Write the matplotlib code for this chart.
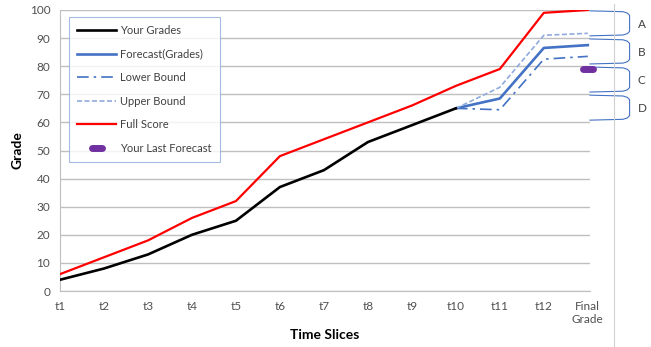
import matplotlib
matplotlib.use("Agg")
import matplotlib.pyplot as plt
from matplotlib.markers import MarkerStyle
from matplotlib.lines import Line2D

categories = ["t1", "t2", "t3", "t4", "t5", "t6", "t7", "t8", "t9", "t10", "t11", "t12", "Final\nGrade"]
your_grades = [4, 8, 13, 20, 25, 37, 43, 53, 59, 65]
full_score = [6, 12, 18, 26, 32, 48, 54, 60, 66, 73, 79, 99, 100]
forecast = [65, 68.5, 86.5, 87.5]
lower_bound = [65, 64.5, 82.5, 83.5]
upper_bound = [65, 72.5, 91, 91.7]
last_forecast = 79
grade_bands = [("A", 90, 100), ("B", 80, 90), ("C", 70, 80), ("D", 60, 70)]

plt.rcParams["font.family"] = ["Lato", "DejaVu Sans"]
grid_c = "#BFBFBF"
text_c = "#505050"
blue = "#4472C4"

fig = plt.figure(figsize=(6.51, 3.47), dpi=100)
ax = fig.add_axes([60 / 651, 1 - 291 / 347, 530 / 651, 281 / 347])

x_all = list(range(len(categories)))
fx = x_all[9:]

ax.plot(x_all[:len(your_grades)], your_grades, color="black", lw=1.9, label="Your Grades", zorder=5)
ax.plot(fx, forecast, color=blue, lw=1.9, label="Forecast(Grades)", zorder=4)
ax.plot(fx, lower_bound, color=blue, lw=1.2, dashes=(7, 3, 1.5, 3), label="Lower Bound", zorder=4)
ax.plot(fx, upper_bound, color="#8FAADC", lw=1.2, dashes=(3, 1.5), label="Upper Bound", zorder=4)
ax.plot(x_all, full_score, color="#FF0000", lw=1.6, label="Full Score", zorder=3)
ax.plot([12], [last_forecast], ls="none", marker=MarkerStyle("_", capstyle="round"),
        markersize=7, mew=5, color="#7030A0", label="Your Last Forecast", zorder=6, clip_on=False)

ax.set_xlim(0, 12.05)
ax.set_ylim(0, 100)
ax.set_yticks(range(0, 101, 10))
ax.set_xticks(x_all)
ax.set_xticklabels(categories)
ax.grid(axis="y", color=grid_c, lw=1)
ax.set_axisbelow(True)
for s in ["top", "right"]:
    ax.spines[s].set_visible(False)
ax.spines["left"].set_color(grid_c)
ax.spines["bottom"].set_color(grid_c)
ax.tick_params(length=0, colors=text_c, labelsize=8.5, pad=7)

fig.text(17 / 651, 1 - 150 / 347, "Grade", fontsize=10, fontweight="bold",
         rotation=90, ha="center", va="center")
fig.text(325 / 651, 1 - 335 / 347, "Time Slices", fontsize=10, fontweight="bold",
         ha="center", va="center")

# grade brackets on the right
for name, lo, hi in grade_bands:
    top = hi - 0.3
    bot = lo + 0.8
    xs = [12.05, 12.8, 12.9, 12.95, 12.95, 12.9, 12.8, 12.05]
    ys = [top, top - 0.3, top - 0.8, top - 1.6, bot + 1.6, bot + 0.8, bot + 0.3, bot]
    ax.plot(xs, ys, color=blue, lw=0.8, clip_on=False)
    ax.text(13.13, (lo + hi) / 2, name, fontsize=8.5, color="#404040",
            ha="left", va="center", clip_on=False)

fig.add_artist(Line2D([614 / 651, 614 / 651], [0, 1 - 4 / 347], color="#D0D0D0", lw=0.8))

leg = ax.legend(loc="upper left", bbox_to_anchor=(69 / 651, 1 - 17 / 347),
                bbox_transform=fig.transFigure, fontsize=8, frameon=True, fancybox=False,
                handlelength=3.5, labelspacing=1.12, borderpad=0.75, handletextpad=0.35,
                borderaxespad=0)
leg.get_frame().set_edgecolor("#8FAADC")
leg.get_frame().set_linewidth(0.8)
for t in leg.get_texts():
    t.set_color("#404040")

fig.savefig("out.png", dpi=100)
